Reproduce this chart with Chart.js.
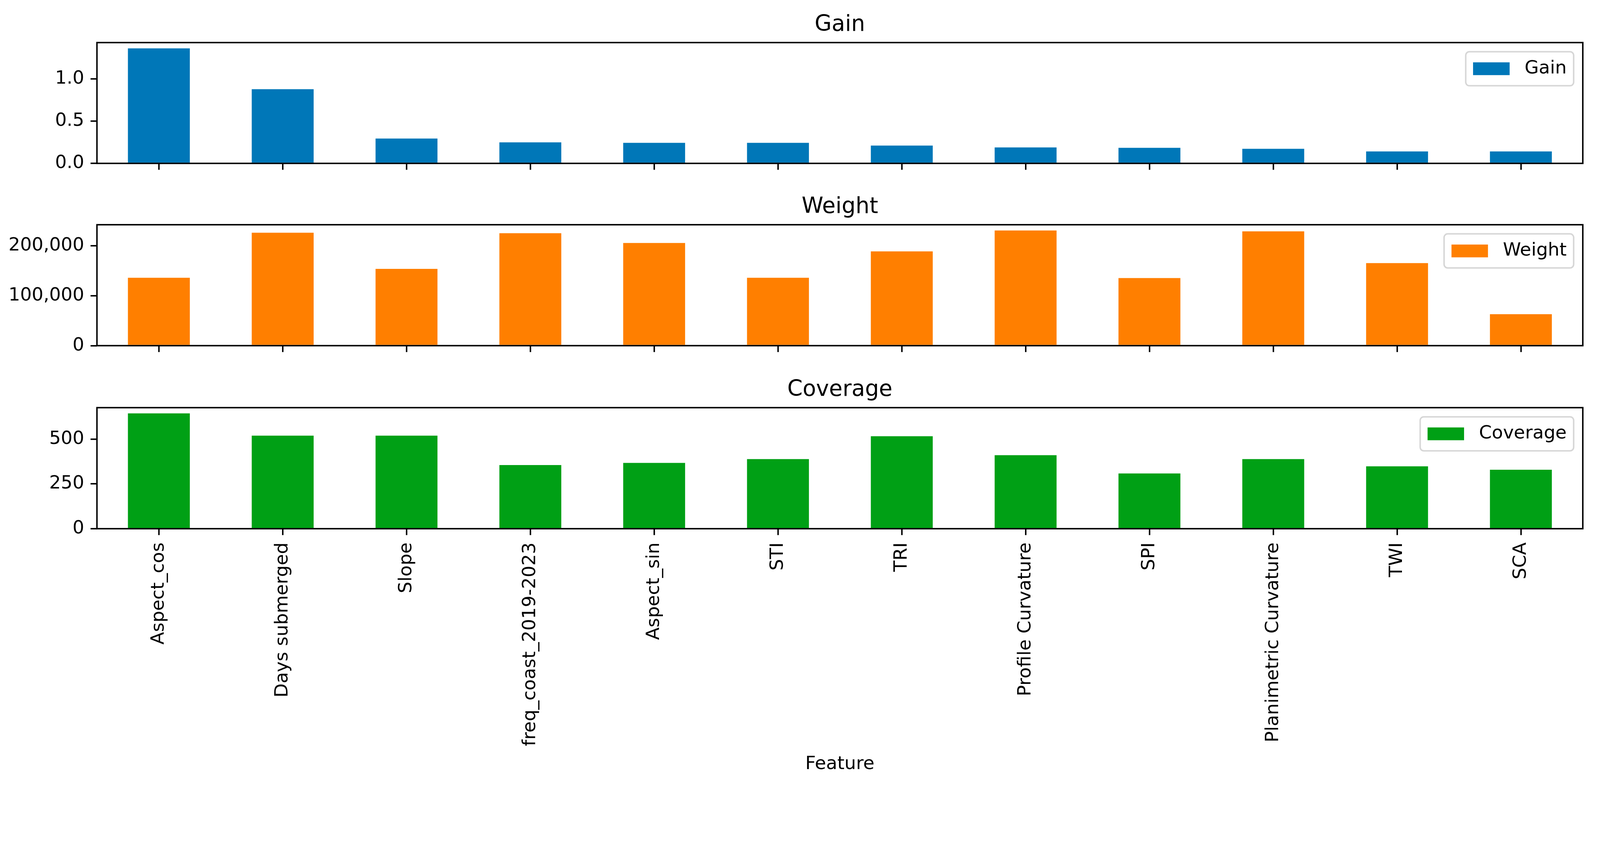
<!DOCTYPE html>
<html>
<head>
<meta charset="utf-8">
<script src="https://cdn.jsdelivr.net/npm/chart.js@4.4.1/dist/chart.umd.min.js"></script>
<style>
  html, body { margin: 0; padding: 0; background: #fff; overflow: hidden; }
  canvas { position: absolute; left: 0; }
</style>
</head>
<body>
<canvas id="gainChart"></canvas>
<canvas id="weightChart"></canvas>
<canvas id="coverageChart"></canvas>
<script>
var features = ['Aspect_cos', 'Days submerged', 'Slope', 'freq_coast_2019-2023', 'Aspect_sin', 'STI',
    'TRI', 'Profile Curvature', 'SPI', 'Planimetric Curvature', 'TWI', 'SCA'];
var gain = [1.364, 0.880, 0.295, 0.249, 0.243, 0.243, 0.211, 0.189, 0.185, 0.173, 0.142, 0.142];
var weight = [136200, 226500, 154000, 225500, 205900, 136200, 189000, 230900, 135500, 229100, 165600, 63100];
var coverage = [643, 519, 519, 355, 367, 388, 516, 410, 308, 388, 348, 329];
var gainTicks = [0, 0.5, 1.0];
var weightTicks = [0, 100000, 200000];
var coverageTicks = [0, 250, 500];

// all sizes below are in reference pixels (4373 wide); scale them to the css viewport
var k = (window.innerWidth || 4373) / 4373;
var dpr = window.devicePixelRatio || 1;
function px(v) { return v * k; }

Chart.defaults.font.family = "'DejaVu Sans', sans-serif";
Chart.defaults.font.size = px(50);
Chart.defaults.color = '#000';

// axes box + matplotlib-like legend frame in the upper right corner
var axesFrame = {
    id: 'axesFrame',
    afterLayout: function (chart) {
        var a = chart.chartArea, lg = chart.legend, ctx = chart.ctx;
        ctx.save();
        ctx.font = px(50) + "px 'DejaVu Sans'";
        var tw = ctx.measureText(chart.data.datasets[0].label).width;
        ctx.restore();
        var w = px(20 + 100 + 40 + 20) + tw, h = px(93);
        var box = { left: a.right - px(25) - w, top: a.top + px(25), width: w, height: h };
        chart.$legendFrame = box;
        lg.left = box.left + px(20);
        lg.top = box.top + h / 2 - px(25);
        lg.width = w - px(20);
        lg.height = px(80);
        lg.right = lg.left + lg.width;
        lg.bottom = lg.top + lg.height;
    },
    beforeDraw: function (chart) {
        var b = chart.$legendFrame, ctx = chart.ctx;
        if (!b) return;
        ctx.save();
        ctx.fillStyle = '#fff';
        ctx.strokeStyle = '#d6d6d6';
        ctx.lineWidth = px(4);
        ctx.beginPath();
        if (ctx.roundRect) ctx.roundRect(b.left, b.top, b.width, b.height, px(10));
        else ctx.rect(b.left, b.top, b.width, b.height);
        ctx.fill();
        ctx.stroke();
        ctx.restore();
    },
    afterDraw: function (chart) {
        var a = chart.chartArea, ctx = chart.ctx;
        ctx.save();
        ctx.strokeStyle = '#000';
        ctx.lineWidth = px(4);
        ctx.strokeRect(a.left, a.top, a.right - a.left, a.bottom - a.top);
        ctx.restore();
    }
};

function makePanel(id, label, values, color, yTicks, fmt, layout) {
    var canvas = document.getElementById(id);
    canvas.width = Math.round(px(4373));
    canvas.height = Math.round(px(layout.height));
    canvas.style.top = px(layout.top) + 'px';
    return new Chart(canvas, {
        type: 'bar',
        data: {
            labels: features,
            datasets: [{
                label: label,
                data: values,
                backgroundColor: color,
                borderWidth: 0,
                barPercentage: 0.5,
                categoryPercentage: 1.0
            }]
        },
        options: {
            responsive: false,
            animation: false,
            devicePixelRatio: dpr,
            layout: { padding: { left: 0, right: px(47), top: 0, bottom: px(layout.bottom) } },
            plugins: {
                tooltip: { enabled: false },
                title: {
                    display: true,
                    text: label,
                    fullSize: false,
                    color: '#000',
                    font: { size: px(60), weight: 'normal' },
                    padding: { top: px(layout.titleTop), bottom: px(12) }
                },
                legend: {
                    position: 'chartArea',
                    align: 'start',
                    labels: {
                        boxWidth: px(100),
                        boxHeight: px(35),
                        padding: 0,
                        color: '#000',
                        font: { size: px(50) },
                        generateLabels: function (chart) {
                            return Chart.defaults.plugins.legend.labels.generateLabels(chart).map(function (l) {
                                l.text = ' ' + l.text;
                                return l;
                            });
                        }
                    }
                }
            },
            scales: {
                x: {
                    type: 'category',
                    offset: true,
                    grid: {
                        display: true, drawOnChartArea: false, drawTicks: true, offset: false,
                        tickLength: px(17.5), lineWidth: px(4), tickWidth: px(4), color: '#000', tickColor: '#000'
                    },
                    border: { display: false },
                    ticks: {
                        display: layout.showLabels,
                        autoSkip: false,
                        minRotation: 90,
                        maxRotation: 90,
                        padding: px(20),
                        color: '#000',
                        font: { size: px(50) }
                    },
                    title: {
                        display: layout.showLabels,
                        text: 'Feature',
                        color: '#000',
                        font: { size: px(50) },
                        padding: { top: 0, bottom: px(34) }
                    },
                    afterFit: function (s) { s.height = px(layout.xHeight); }
                },
                y: {
                    min: 0,
                    max: Math.max.apply(null, values) * 1.05,
                    afterBuildTicks: function (s) {
                        s.ticks = yTicks.map(function (v) { return { value: v }; });
                    },
                    grid: {
                        drawOnChartArea: false, drawTicks: true,
                        tickLength: px(17.5), lineWidth: px(4), tickWidth: px(4), color: '#000', tickColor: '#000'
                    },
                    border: { display: false },
                    ticks: {
                        padding: px(17.5),
                        color: '#000',
                        font: { size: px(50) },
                        callback: fmt
                    },
                    afterFit: function (s) { s.width = px(265); }
                }
            }
        },
        plugins: [axesFrame]
    });
}

makePanel('gainChart', 'Gain', gain, '#0077b8', gainTicks,
    function (v) { return Number(v).toFixed(1); },
    { top: 0, height: 500, titleTop: 32.3, bottom: 13.3, xHeight: 40, showLabels: false });

makePanel('weightChart', 'Weight', weight, '#ff7f00', weightTicks,
    function (v) { return Number(v).toLocaleString('en-US'); },
    { top: 500, height: 500, titleTop: 30.3, bottom: 15, xHeight: 40, showLabels: false });

makePanel('coverageChart', 'Coverage', coverage, '#00a015', coverageTicks,
    function (v) { return String(v); },
    { top: 1000, height: 1152, titleTop: 29.3, bottom: 0, xHeight: 708, showLabels: true });
</script>
</body>
</html>
